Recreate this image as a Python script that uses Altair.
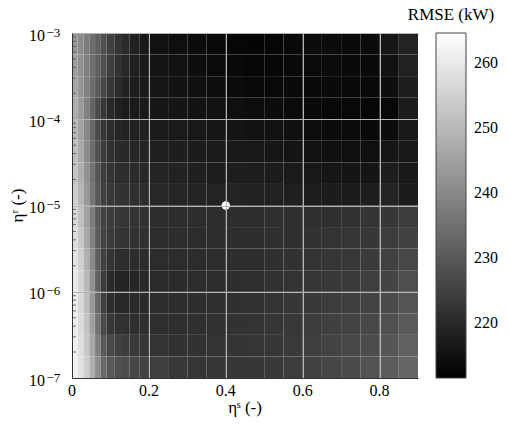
import altair as alt
import pandas as pd

FONT = "Liberation Serif"

# cell edges: eta_s (x) and log10(eta_r) (y, top to bottom)
x_edges = [0, 0.015, 0.03, 0.045, 0.06, 0.075, 0.09, 0.11, 0.13, 0.15, 0.175, 0.2,
           0.25, 0.3, 0.35, 0.4, 0.45, 0.5, 0.55, 0.6, 0.65, 0.7, 0.75, 0.8, 0.85, 0.9]
y_log_edges = [-3, -3.25, -3.5, -3.75, -4, -4.25, -4.5, -4.75, -5,
               -5.25, -5.5, -5.75, -6, -6.25, -6.5, -6.75, -7]

# RMSE (kW) per cell, rows from top (1e-3) to bottom (1e-7)
rmse = [
    [242.6,240.5,237.4,234.3,231.2,228.1,224.9,222.2,220.1,218.1,216.6,215.2,214.5,213.9,213.5,212.7,212.4,212.7,213.3,213.9,213.9,213.5,213.9,216.0,218.7],
    [244.3,241.6,238.1,234.7,231.2,228.1,224.5,221.8,219.7,218.1,216.8,215.6,214.9,214.3,213.9,213.1,212.7,212.9,213.3,213.7,213.7,213.5,213.5,215.2,218.3],
    [245.8,242.6,238.5,234.3,230.1,226.4,222.9,220.1,218.7,217.7,216.8,216.0,215.4,214.7,214.3,213.7,213.3,213.3,213.5,213.5,213.5,213.3,213.3,214.3,217.7],
    [247.2,243.7,238.5,232.2,227.0,222.9,219.7,218.1,217.2,216.8,216.6,216.2,215.8,215.4,214.9,214.5,214.1,213.9,213.7,213.3,213.1,213.1,212.9,213.1,217.2],
    [249.3,245.1,239.5,233.3,227.0,222.9,220.8,219.3,218.7,218.3,218.1,217.2,216.8,216.4,216.0,215.8,215.4,215.2,214.7,214.3,213.9,213.7,213.5,213.9,216.6],
    [251.0,246.4,240.5,234.3,228.1,223.9,221.4,220.1,219.7,219.3,218.9,218.1,217.7,217.2,216.8,216.6,216.4,216.0,215.6,215.2,214.7,214.5,214.5,216.0,216.6],
    [252.2,247.6,241.6,235.3,229.1,224.3,222.2,221.2,220.8,220.4,219.7,218.9,218.5,218.1,217.7,217.7,217.4,217.2,216.8,216.4,216.0,215.8,215.8,217.7,216.6],
    [254.1,249.3,243.0,236.0,229.7,225.1,223.1,222.2,221.8,221.4,220.8,219.7,219.3,218.9,218.7,218.7,218.5,218.3,218.1,217.7,217.2,217.2,217.7,218.9,217.2],
    [256.2,251.4,245.1,237.4,230.1,225.6,223.9,223.1,222.6,222.2,221.8,221.0,220.8,220.8,220.8,221.0,221.0,221.2,221.2,221.4,221.4,221.8,222.2,222.9,223.9],
    [257.6,253.0,246.8,238.5,230.6,225.6,223.5,222.6,222.2,221.8,221.4,220.8,220.8,220.6,220.6,220.8,221.0,221.2,221.4,221.8,222.0,222.4,222.9,223.9,225.1],
    [258.9,254.7,248.5,240.1,231.2,224.9,222.2,221.0,220.6,220.6,220.6,220.6,220.6,220.6,220.6,220.8,221.0,221.4,221.8,222.2,222.6,223.1,223.7,224.9,226.4],
    [259.7,255.8,249.9,241.6,231.8,223.9,220.1,218.9,218.9,219.3,219.7,220.1,220.4,220.6,220.8,221.0,221.2,221.6,222.0,222.6,223.1,223.7,224.3,225.6,227.6],
    [260.3,256.6,251.0,243.0,233.3,224.9,220.8,219.7,219.7,220.1,220.4,220.6,220.8,221.0,221.2,221.4,221.6,222.0,222.6,223.3,223.9,224.5,225.4,227.0,229.1],
    [260.7,257.2,252.0,244.7,235.3,227.0,222.9,221.8,221.4,221.2,221.2,221.2,221.2,221.4,221.6,221.8,222.0,222.4,223.1,223.9,224.7,225.4,226.4,228.1,230.1],
    [261.2,257.8,253.0,246.4,238.1,230.1,226.4,224.9,223.9,223.1,222.6,222.2,221.8,221.8,222.0,222.2,222.4,222.9,223.5,224.5,225.4,226.2,227.4,229.3,231.4],
    [261.6,258.5,254.1,247.8,240.5,233.3,229.7,228.1,227.0,226.0,225.1,224.3,223.1,222.4,222.4,222.6,222.9,223.3,223.9,224.9,226.0,227.0,228.5,230.6,232.6],
]

color_domain = [211.4, 264.5]
legend_values = [220, 230, 240, 250, 260]
legend_labels = ["220", "230", "240", "250", "260"]
x_ticks = [0, 0.2, 0.4, 0.6, 0.8]
x_labels = ["0", "0.2", "0.4", "0.6", "0.8"]
y_ticks = [1e-7, 1e-6, 1e-5, 1e-4, 1e-3]
y_exponents = ["\u22127", "\u22126", "\u22125", "\u22124", "\u22123"]
minor_ticks = [k * 10.0 ** e for e in range(-7, -3) for k in range(2, 10)]
opt_s = [0.4]
opt_r = [1e-5]

rows = []
for i, row in enumerate(rmse):
    for j, v in enumerate(row):
        rows.append({"x": x_edges[j], "x2": x_edges[j + 1],
                     "y": 10.0 ** y_log_edges[i + 1], "y2": 10.0 ** y_log_edges[i],
                     "rmse": v})
cells = pd.DataFrame(rows)

xscale = alt.Scale(domain=[0, 0.9], nice=False, zero=False)
yscale = alt.Scale(type="log", domain=[1e-7, 1e-3], nice=False)
cscale = alt.Scale(domain=color_domain, range=["#000000", "#ffffff"], interpolate="rgb")
cbscale = alt.Scale(domain=color_domain, nice=False, zero=False)

axis_style = dict(labels=False, title=None, grid=True, ticks=False, zindex=1,
                  gridColor="#b4b4b4", gridWidth=1, gridOpacity=1,
                  domainColor="#333333", domainWidth=1)

heat = alt.Chart(cells).mark_rect().encode(
    x=alt.X("x:Q", scale=xscale, axis=alt.Axis(values=x_ticks, **axis_style)),
    x2="x2:Q",
    y=alt.Y("y:Q", scale=yscale, axis=alt.Axis(values=y_ticks, **axis_style)),
    y2="y2:Q",
    color=alt.Color("rmse:Q", scale=cscale, legend=alt.Legend(
        type="gradient", title=None, orient="none", legendX=364, legendY=0,
        direction="vertical", labelExpr="''", labelOpacity=0,
        gradientLength=345, gradientThickness=30, values=legend_values,
        gradientStrokeColor="#444444", gradientStrokeWidth=1)),
)

minor = alt.Chart(pd.DataFrame({"r": minor_ticks})).mark_rule(
    color="#555555", strokeWidth=0.8).encode(
    y=alt.Y("r:Q", scale=yscale), x=alt.value(0), x2=alt.value(4))

point = alt.Chart(pd.DataFrame({"s": opt_s, "r": opt_r})).mark_circle(
    color="white", size=70, opacity=1).encode(
    x=alt.X("s:Q", scale=xscale), y=alt.Y("r:Q", scale=yscale))

xlab = alt.Chart(pd.DataFrame({"v": x_ticks, "t": x_labels})).mark_text(
    font=FONT, fontSize=16, color="black", align="center", baseline="alphabetic").encode(
    x=alt.X("v:Q", scale=xscale), y=alt.value(363), text="t:N")

ylab10 = alt.Chart(pd.DataFrame({"v": y_ticks, "t": ["10"] * 5})).mark_text(
    font=FONT, fontSize=16, color="black", align="right", baseline="alphabetic",
    dy=7.5).encode(
    y=alt.Y("v:Q", scale=yscale), x=alt.value(-27), text="t:N")

ylabexp = alt.Chart(pd.DataFrame({"v": y_ticks, "t": y_exponents})).mark_text(
    font=FONT, fontSize=13, color="black", align="left", baseline="alphabetic",
    dy=3.5).encode(
    y=alt.Y("v:Q", scale=yscale), x=alt.value(-25.5), text="t:N")

xtitle = alt.Chart(pd.DataFrame({"t": ["\u03b7\u02e2 (-)"]})).mark_text(
    font=FONT, fontSize=17, color="black", align="center", baseline="alphabetic").encode(
    text="t:N", x=alt.value(173), y=alt.value(380))

ytitle = alt.Chart(pd.DataFrame({"t": ["\u03b7\u02b3 (-)"]})).mark_text(
    font=FONT, fontSize=17, color="black", align="center", baseline="middle",
    angle=270).encode(
    text="t:N", x=alt.value(-54), y=alt.value(172.5))

ctitle = alt.Chart(pd.DataFrame({"t": ["RMSE (kW)"]})).mark_text(
    font=FONT, fontSize=17, color="black", align="center", baseline="middle").encode(
    text="t:N", x=alt.value(379), y=alt.value(-18))

main = alt.layer(heat, minor, point, xlab, ylab10, ylabexp, xtitle, ytitle, ctitle)

cb_df = pd.DataFrame({"v": legend_values, "t": legend_labels})
cb_labels = alt.Chart(cb_df).mark_text(
    font=FONT, fontSize=16, color="black", align="left", baseline="middle", dy=1).encode(
    y=alt.Y("v:Q", scale=cbscale, axis=None), x=alt.value(402), text="t:N")
cb_ticks_l = alt.Chart(cb_df).mark_rule(color="#9a9a9a", strokeWidth=1).encode(
    y=alt.Y("v:Q", scale=cbscale, axis=None), x=alt.value(365), x2=alt.value(369))
cb_ticks_r = alt.Chart(cb_df).mark_rule(color="#9a9a9a", strokeWidth=1).encode(
    y=alt.Y("v:Q", scale=cbscale, axis=None), x=alt.value(389), x2=alt.value(393))
cbar = alt.layer(cb_labels, cb_ticks_l, cb_ticks_r)

chart = alt.layer(main, cbar).resolve_scale(y="independent").properties(
    width=346, height=345,
    autosize=alt.AutoSizeParams(type="none"),
    padding={"left": 72, "top": 33, "right": 92, "bottom": 48},
    background="white",
).configure_view(stroke=None)

chart.save("out.html", embed_options={"renderer": "svg", "actions": False})
